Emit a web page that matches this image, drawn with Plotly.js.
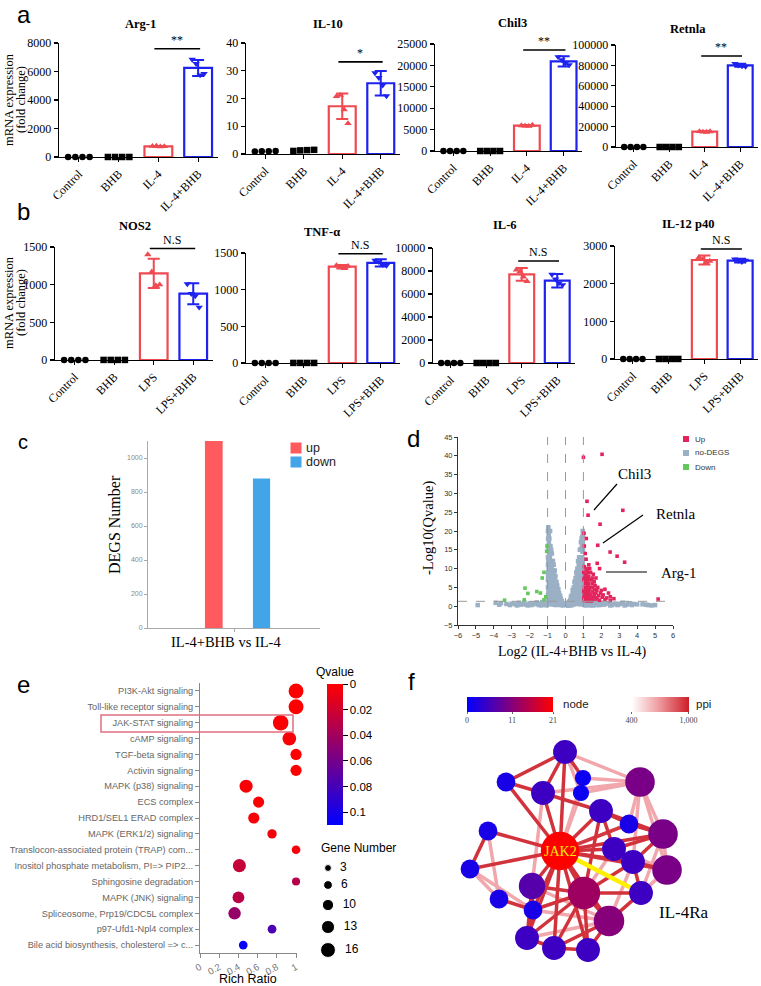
<!DOCTYPE html>
<html><head><meta charset="utf-8">
<script src="https://cdn.plot.ly/plotly-3.0.1.min.js"></script>
<style>html,body{margin:0;padding:0;background:#fff}#chart{width:761px;height:986px}</style>
</head><body><div id="chart"></div>
<script>
// ================= DATA =================
const catsA = ['Control','BHB','IL-4','IL-4+BHB'];
const catsB = ['Control','BHB','LPS','LPS+BHB'];

// panel a (points per group, mean, SD)
const arg1Pts  = [[1,1,1,1],[1,1,1,1],[760,780,720,745],[6850,6550,5750,5850]];
const arg1Mean = [1,1,750,6250];
const arg1Sd   = [0,0,30,560];
const il10Pts  = [[0.9,1.0,1.0,1.1],[1.1,1.3,1.4,1.5],[20.8,21.2,16,11],[29.2,27.5,24.8,20.9]];
const il10Mean = [1,1.3,17.2,25.5];
const il10Sd   = [0.1,0.2,4.6,4.4];
const chil3Pts  = [[1,1,1,1],[1,1,1,1],[5950,5850,5800,6050],[22000,21300,20500,20100]];
const chil3Mean = [1,1,5910,20960];
const chil3Sd   = [0,0,150,1200];
const retnlaPts  = [[1,1,1,1],[1,1,1,1],[15300,14800,14700,15200],[81800,80200,79400,79000]];
const retnlaMean = [1,1,15000,80100];
const retnlaSd   = [0,0,400,1500];
// panel b
const nos2Pts  = [[1,1,1,1],[1,1,1,1],[1400,1170,990,1000],[1010,880,850,700]];
const nos2Mean = [1,1,1150,880];
const nos2Sd   = [0,0,195,140];
const tnfPts   = [[1,1,1,1],[1,1,1,1],[1330,1310,1290,1320],[1400,1380,1340,1330]];
const tnfMean  = [1,1,1313,1365];
const tnfSd    = [0,0,25,50];
const il6Pts   = [[1,1,1,1],[1,1,1,1],[8100,7950,7500,7100],[7700,7300,6950,6800]];
const il6Mean  = [1,1,7710,7160];
const il6Sd    = [0,0,560,590];
const il12Pts  = [[1,1,1,1],[1,1,1,1],[2700,2650,2560,2600],[2650,2610,2580,2620]];
const il12Mean = [1,1,2628,2610];
const il12Sd   = [0,0,120,50];
const sigHeights = [7600, 33.2, 23600, 89200, 1480, 1490, 8870, 2920];
const sigLabels  = ['**','*','**','**','N.S','N.S','N.S','N.S'];

// panel c
const degCategory = ['IL-4+BHB vs IL-4'];
const degUp   = [1100];
const degDown = [880];

// panel d (volcano)
const greyX = [-0.96,-0.94,-0.97,-0.93,-0.95,-0.92,-0.96,-0.94,-0.97,-0.93,-0.95,-0.96,-0.94,
  -0.86,-0.84,-0.87,-0.85,-0.83,-0.86,-0.84,-0.87,-0.85,-0.83,
  -0.76,-0.74,-0.77,-0.75,-0.73,-0.76,-0.74,-0.77,-0.75,
  -0.66,-0.64,-0.67,-0.65,-0.63,-0.66,-0.64,-0.65,
  -0.56,-0.54,-0.57,-0.55,-0.53,-0.56,-0.54,
  -0.46,-0.44,-0.47,-0.45,-0.43,
  -0.36,-0.34,-0.37,-0.35,
  -0.26,-0.24,-0.27,
  -0.16,-0.14,
  -0.98,-0.98,-0.98,-0.98,-0.98,-0.98,-0.98,-0.98,-0.98,
  -0.90,-0.90,-0.90,-0.90,-0.90,-0.90,-0.90,-0.90,-0.90,
  -0.80,-0.80,-0.80,-0.80,-0.80,-0.80,-0.80,-0.80,
  -0.70,-0.70,-0.70,-0.70,-0.70,-0.70,-0.70,
  -0.60,-0.60,-0.60,-0.60,-0.60,-0.60,
  -0.50,-0.50,-0.50,-0.50,-0.50,
  -0.40,-0.40,-0.40,-0.40,
  -0.30,-0.30,-0.30,
  -0.20,-0.20,
  0.96,0.94,0.97,0.93,0.95,0.92,0.96,0.94,0.97,0.93,0.95,0.96,0.94,0.95,
  0.86,0.84,0.87,0.85,0.83,0.86,0.84,0.87,0.85,0.83,
  0.76,0.74,0.77,0.75,0.73,0.76,0.74,0.77,0.75,
  0.66,0.64,0.67,0.65,0.63,0.66,0.64,
  0.56,0.54,0.57,0.55,0.53,0.56,
  0.46,0.44,0.47,0.45,0.43,
  0.36,0.34,0.37,0.35,
  0.26,0.24,0.27,
  0.16,0.14,
  0.98,0.98,0.98,0.98,0.98,0.98,0.98,0.98,0.98,0.98,
  0.90,0.90,0.90,0.90,0.90,0.90,0.90,0.90,0.90,0.90,
  0.80,0.80,0.80,0.80,0.80,0.80,0.80,0.80,
  0.70,0.70,0.70,0.70,0.70,0.70,0.70,
  0.60,0.60,0.60,0.60,0.60,0.60,
  0.50,0.50,0.50,0.50,0.50,
  0.40,0.40,0.40,0.40,
  0.30,0.30,0.30,
  0.20,0.20,
  -4.9,-3.9,-3.6,-3.3,-3.0,-2.8,-2.6,-2.4,-2.2,-2.0,-1.8,-1.6,-1.5,-1.4,-1.3,-1.2,-1.1,-1.05,
  -3.7,-3.1,-2.7,-2.5,-2.3,-2.1,-1.9,-1.7,-1.55,-1.35,-1.15,
  1.05,1.1,1.2,1.3,1.4,1.5,1.6,1.7,1.8,1.9,2.0,2.2,2.4,2.6,2.8,3.0,3.2,3.4,3.6,3.8,4.3,4.5,4.8,5.0,
  1.15,1.25,1.35,1.45,1.55,1.65,1.75,1.85,2.1,2.3,2.5,2.7,2.9,3.1,3.3,3.5,3.7,4.0,4.6];
const greyY = [21,19,18,17,15.5,14,12,10,8,6,4,2,0.8,
  20,16,13,11,9,7,5,3,1.5,0.5,
  14,12,10,8,6,4.5,3,1.8,0.6,
  11,9,7,5.5,4,2.5,1.2,0.4,
  8,6,4.5,3,2,1,0.3,
  5.5,4,2.8,1.6,0.7,
  3.5,2.2,1.2,0.4,
  2,1,0.3,
  0.8,0.2,
  20,16,13,11,9,7,5,3,1.2,
  18,15,12.5,10.5,8.5,6.5,4.5,2.5,1,
  15,12,9.5,7.5,5.5,3.5,2,0.8,
  12,9.5,7.5,5,3.3,2,0.7,
  9.5,7,5,3.5,2,0.8,
  6.5,4.8,3.3,2,0.9,
  4.5,3,1.8,0.8,
  2.8,1.7,0.7,
  1.4,0.6,
  20,18.5,17,16,14.5,13,11.5,10,8.5,7,5.5,4,2.5,1,
  17,15,13,11,9,7,5,3,1.5,0.5,
  13,11,9,7.5,6,4.5,3,1.5,0.6,
  10,8,6.5,5,3.5,2,0.8,
  7.5,6,4.5,3,1.8,0.6,
  5,3.8,2.5,1.3,0.4,
  3,2,1,0.3,
  1.6,0.8,0.2,
  0.6,0.1,
  19,15,12.5,10.5,9,7.5,6,4.5,3,1.8,
  18,15.5,13,11,9,7,5,3.5,2,0.8,
  15,12,10,8,6,4,2.3,1,
  12,9.5,7.5,5.5,3.8,2.3,1,
  9,7,5.3,3.8,2.4,1,
  6.5,4.8,3.3,2,0.8,
  4.3,2.9,1.7,0.7,
  2.5,1.5,0.6,
  1.2,0.5,
  0.3,0.9,0.8,0.6,0.7,0.5,0.9,0.6,0.4,0.8,0.5,1.0,0.3,0.7,1.1,0.4,0.9,0.2,
  0.4,0.3,0.2,0.4,1.0,0.2,0.3,0.8,0.6,0.2,0.6,
  0.3,0.8,0.5,1.0,0.2,0.7,0.4,1.1,0.6,0.3,0.9,0.5,0.8,0.3,0.7,0.5,0.9,0.4,0.8,0.6,0.5,0.4,0.2,0.3,
  0.2,0.7,0.4,1.0,0.2,0.8,0.3,0.9,0.4,0.7,0.2,0.6,0.3,0.7,0.2,0.6,0.3,0.5,0.3];
const upX = [1.0,2.04,1.2,3.2,1.26,1.93,1.03,1.16,1.8,2.49,2.88,3.3,1.77,1.9,1.05,1.1,1.15,1.3,1.05,1.2,1.4,1.1,1.3,1.55,1.05,1.2,1.45,1.7,1.1,1.3,1.5,1.65,1.05,1.2,1.4,1.6,1.8,1.1,1.3,1.5,1.7,2.0,2.2,1.05,1.2,1.4,1.6,1.85,2.1,2.4,2.5,1.1,1.3,1.5,1.7,1.9,2.2,2.5,1.05,1.25,1.45,2.3,5.17,2.7,
  1.02,1.02,1.02,1.02,1.15,1.15,1.15,1.15,1.15,1.15,1.15,1.25,1.25,1.25,1.25,1.25,1.35,1.35,1.35,1.35,1.35,1.5,1.5,1.5,1.6,1.6,1.75,1.75,1.95,2.05];
const upY = [39.6,40.4,27.9,25.5,24.2,21.8,19.4,18,16.2,14.4,13.3,11.7,11.4,10,16,14,12.5,11,10.5,9.5,9,8.5,8,8.5,7.5,7,7,7.5,6,6,6,5.5,5,5,5,4.5,5,4,4,3.8,3.5,4.2,4.5,3,3,2.8,2.6,2.8,3,3.5,2.5,2,2,1.8,1.9,1.6,1.8,1.5,1.5,1.4,1.4,2.2,1.9,2.0,
  9,7,4,2.2,10,8,6.5,4.5,3.5,2.5,1.6,9,7.5,5.5,3.5,2.5,10,7,4.5,3.2,1.7,7.5,5,2.3,6.5,3.3,4.2,2.3,3.5,2.4];
const downX = [-1.03,-1.05,-1.2,-1.3,-2.26,-1.6,-2.1,-1.4,-3.4,-2.3,-1.2,-1.1];
const downY = [16,14.6,9,7.5,4.8,3.9,3.4,3.5,1.6,1.7,1.7,2.5];

// panel e (enrichment)
const pathways = ['PI3K-Akt signaling','Toll-like receptor signaling','JAK-STAT signaling','cAMP signaling',
  'TGF-beta signaling','Activin signaling','MAPK (p38) signaling','ECS complex','HRD1/SEL1 ERAD complex',
  'MAPK (ERK1/2) signaling','Translocon-associated protein (TRAP) com...','Inositol phosphate metabolism, PI=> PIP2...',
  'Sphingosine degradation','MAPK (JNK) signaling','Spliceosome, Prp19/CDC5L complex','p97-Ufd1-Npl4 complex',
  'Bile acid biosynthesis, cholesterol => c...'];
const richRatio  = [1.0,1.0,0.84,0.93,1.0,1.0,0.48,0.61,0.56,0.75,1.0,0.41,1.0,0.40,0.36,0.75,0.45];
const geneNumber = [16,16,17,14,10,10,13,10,10,7,6,13,5,11,12,6,6];
const qValue     = [0,0,0.002,0.003,0,0,0.002,0.002,0.003,0.005,0.004,0.025,0.032,0.03,0.045,0.078,0.107];
const geneLegend = [3,6,10,13,16];
const qTicks = [0,0.02,0.04,0.06,0.08,0.1];

// panel f (PPI network; node layout positions and degree, edges with ppi score)
const nodeX   = [565,506,583,640,543,581,601,629,488,663,560,614,633,470,667,532,584,641,499,533,609,527,554,588];
const nodeY   = [752,782,778,782,793,793,811,824,831,834,851,849,862,869,870,886,893,893,899,910,921,938,948,950];
const nodeDeg = [5,2,1,10,5,1,5,2,2,10,21,5,5,2,10,7,13,5,2,2,11,5,5,5];
const nodeLabels = ['','','','','','','','','','','JAK2','','','','','','','IL-4Ra','','','','','',''];
const edgeFrom = [11,11,11,11,11,11,11,11,11,11,11,11,11,11,11,11,11,11,11,11,
  1,1,1,1,1,2,3,6,5,5,5,7,7,7,7,8,4,4,4,4,10,10,10,12,13,13,15,9,9,14,14,19,16,16,16,16,17,17,17,17,17,17,17,21,21,21,21,21,20,22,23,20,20,12,18,13];
const edgeTo   = [1,2,5,7,9,12,13,10,14,16,17,20,21,22,23,24,15,8,3,6,
  2,5,3,4,6,5,4,4,4,7,16,10,8,12,17,10,10,8,15,13,12,13,15,13,15,18,18,14,19,19,20,20,20,22,17,21,21,22,23,24,18,12,13,24,23,18,22,15,22,23,24,21,17,15,10,21];
const edgeScore = [950,950,950,950,950,950,950,950,950,950,950,950,950,950,950,950,930,930,650,650,
  950,950,950,650,650,950,650,650,650,950,650,950,950,950,950,950,650,650,650,650,950,950,650,950,950,950,650,950,650,650,650,950,950,950,950,650,950,950,950,950,950,650,950,950,950,950,650,650,950,950,950,650,950,650,650,650];
const highlightEdge = [11,18];
const nodeScaleTicks = [0,11,21];
const ppiTicks = [400,1000];

// ================= DRAWING =================
const W=761, H=986;
const serif='"Liberation Serif","Times New Roman",serif';
const sans='"Liberation Sans",Arial,sans-serif';
const xd=(a,b)=>[a/W,b/W];
const yd=(t,b)=>[1-b/H,1-t/H];
const traces=[];
const layout={width:W,height:H,margin:{l:0,r:0,t:0,b:0},paper_bgcolor:'#ffffff',plot_bgcolor:'rgba(0,0,0,0)',
  barmode:'overlay',showlegend:false,annotations:[],shapes:[],hovermode:false};
function ann(x,y,text,font,extra){layout.annotations.push(Object.assign({xref:'paper',yref:'paper',x:x/W,y:1-y/H,
  xanchor:'center',yanchor:'middle',text:text,showarrow:false,font:font},extra||{}));}
const axName=n=>n===1?'':String(n);

const gColors=['#000000','#000000','#EF4A52','#1E22EE'];
const gSym=['circle','square','triangle-up','triangle-down'];
const jitC=[-0.27,-0.09,0.09,0.27], jitT=[-0.15,-0.05,0.05,0.15];

function barPanel(n,cats,pts,mean,sd,ymax,dtick,title,si,box,tpos){
  const xa='x'+axName(n), ya='y'+axName(n);
  for(let g=0;g<4;g++){
    if(g>=2){
      traces.push({type:'bar',x:[g],y:[mean[g]],width:0.7,xaxis:xa,yaxis:ya,
        marker:{color:'#ffffff',line:{color:gColors[g],width:2.2}},
        error_y:{type:'data',array:[sd[g]],visible:true,color:gColors[g],thickness:2,width:6}});
    }
    const jit=g<2?jitC:jitT;
    traces.push({type:'scatter',mode:'markers',x:pts[g].map((v,i)=>g+jit[i]),y:pts[g],xaxis:xa,yaxis:ya,
      cliponaxis:false,marker:{symbol:gSym[g],size:6.5,color:gColors[g],opacity:1}});
  }
  const ax={showline:true,linecolor:'#000',linewidth:1.3,ticks:'outside',ticklen:4,tickcolor:'#000',tickwidth:1.2,
    showgrid:false,zeroline:false,fixedrange:true,tickfont:{family:serif,size:12,color:'#000'}};
  layout['xaxis'+axName(n)]=Object.assign({},ax,{domain:xd(box[0],box[1]),anchor:ya,range:[-0.5,3.5],
    tickvals:[0,1,2,3],ticktext:cats,tickangle:-45});
  layout['yaxis'+axName(n)]=Object.assign({},ax,{domain:yd(box[2],box[3]),anchor:xa,range:[0,ymax],
    dtick:dtick,tick0:0,tickformat:'d'});
  layout.shapes.push({type:'line',xref:xa,yref:ya,x0:1.9,x1:3.05,y0:sigHeights[si],y1:sigHeights[si],line:{color:'#000',width:1.6}});
  layout.annotations.push({xref:xa,yref:ya,x:2.47,y:sigHeights[si],xanchor:'center',yanchor:'bottom',text:sigLabels[si],showarrow:false,
    font:{family:serif,size:12,color:'#000'}});
  ann(tpos[0],tpos[1],'<b>'+title+'</b>',{family:serif,size:12.5,color:'#000'});
}

barPanel(1,catsA,arg1Pts,arg1Mean,arg1Sd,8000,2000,'Arg-1',0,[59,218,43,157],[140,24]);
barPanel(2,catsA,il10Pts,il10Mean,il10Sd,40,10,'IL-10',1,[246,400,43,154],[328,24]);
barPanel(3,catsA,chil3Pts,chil3Mean,chil3Sd,25000,5000,'Chil3',2,[435,582,44,151],[512,23]);
barPanel(4,catsA,retnlaPts,retnlaMean,retnlaSd,100000,20000,'Retnla',3,[616,758,45,147],[688,29]);
barPanel(5,catsB,nos2Pts,nos2Mean,nos2Sd,1500,500,'NOS2',4,[55,213,247,360],[135,226]);
barPanel(6,catsB,tnfPts,tnfMean,tnfSd,1500,500,'TNF-α',5,[246,400,253,363],[322,232]);
barPanel(7,catsB,il6Pts,il6Mean,il6Sd,10000,2000,'IL-6',6,[433,575,248,363],[505,225]);
barPanel(8,catsB,il12Pts,il12Mean,il12Sd,3000,1000,'IL-12 p40',7,[615,758,246,359],[688,224]);

[[100],[303]].forEach(([cy])=>{
  ann(9,cy,'mRNA expression',{family:serif,size:12.5,color:'#000'},{textangle:-90});
  ann(21,cy,'(fold change)',{family:serif,size:12.5,color:'#000'},{textangle:-90});
});

// overlay axes (pixel coordinates) for keys and the network
layout.xaxis12={domain:[0,1],anchor:'y12',range:[0,W],visible:false,fixedrange:true};
layout.yaxis12={domain:[0,1],anchor:'x12',range:[H,0],visible:false,fixedrange:true};

// ---- panel c ----
const cColors=['#FF5A5E','#42A5E8'];
traces.push({type:'bar',name:'up',x:degCategory,y:degUp,width:0.103,offset:-0.169,xaxis:'x9',yaxis:'y9',marker:{color:cColors[0]}});
traces.push({type:'bar',name:'down',x:degCategory,y:degDown,width:0.1,offset:0.11,xaxis:'x9',yaxis:'y9',marker:{color:cColors[1]}});
layout.xaxis9={domain:xd(148,320),anchor:'y9',showline:true,linecolor:'#aaa',ticks:'outside',ticklen:3,tickcolor:'#aaa',
  showticklabels:false,showgrid:false,zeroline:false,fixedrange:true,range:[-0.5,0.5]};
layout.yaxis9={domain:yd(441,628),anchor:'x9',range:[0,1100],dtick:200,showline:true,linecolor:'#aaa',ticks:'outside',
  ticklen:3,tickcolor:'#aaa',tickfont:{family:sans,size:7,color:'#888'},showgrid:false,zeroline:false,fixedrange:true};
ann(114,524,'DEGS Number',{family:serif,size:16,color:'#000'},{textangle:-90});
ann(226,642,'IL-4+BHB vs IL-4',{family:serif,size:14.5,color:'#000'});
traces.push({type:'scatter',mode:'markers',x:[296,296],y:[448,462],xaxis:'x12',yaxis:'y12',cliponaxis:false,
  marker:{symbol:'square',size:11,color:cColors,opacity:1}});
ann(304,448,'up',{family:sans,size:12.5,color:'#222'},{xanchor:'left'});
ann(304,462,'down',{family:sans,size:12.5,color:'#222'},{xanchor:'left'});

// ---- panel d ----
const dColors=['#E3245C','#9BB0C5','#63C95A'];
traces.push({type:'scatter',mode:'markers',name:'no-DEGS',x:greyX,y:greyY,xaxis:'x10',yaxis:'y10',
  marker:{symbol:'square',size:4.5,color:dColors[1],opacity:1}});
traces.push({type:'scatter',mode:'markers',name:'Up',x:upX,y:upY,xaxis:'x10',yaxis:'y10',
  marker:{symbol:'square',size:3.6,color:dColors[0],opacity:1}});
traces.push({type:'scatter',mode:'markers',name:'Down',x:downX,y:downY,xaxis:'x10',yaxis:'y10',
  marker:{symbol:'square',size:3.6,color:dColors[2],opacity:1}});
layout.xaxis10={domain:xd(458,673),anchor:'y10',range:[-6,6],dtick:1,showline:true,linecolor:'#333',ticks:'outside',ticklen:3,
  tickcolor:'#333',tickfont:{family:sans,size:7.5,color:'#333'},showgrid:false,zeroline:false,fixedrange:true};
layout.yaxis10={domain:yd(437,625),anchor:'x10',range:[-5,45],dtick:5,showline:true,linecolor:'#333',ticks:'outside',ticklen:3,
  tickcolor:'#333',tickfont:{family:sans,size:7.5,color:'#333'},showgrid:false,zeroline:false,fixedrange:true};
[-1,0,1].forEach(v=>layout.shapes.push({type:'line',xref:'x10',yref:'y10',x0:v,x1:v,y0:-5,y1:45,line:{color:'#999',width:1,dash:'dash'}}));
layout.shapes.push({type:'line',xref:'x10',yref:'y10',x0:-6,x1:6,y0:1.3,y1:1.3,line:{color:'#999',width:1,dash:'dash'}});
traces.push({type:'scatter',mode:'markers',x:[686,686,686],y:[439,453,467],xaxis:'x12',yaxis:'y12',cliponaxis:false,
  marker:{symbol:'square',size:6,color:dColors,opacity:1}});
ann(693,439,'Up',{family:sans,size:8,color:'#333'},{xanchor:'left'});
ann(693,453,'no-DEGS',{family:sans,size:8,color:'#333'},{xanchor:'left'});
ann(693,467,'Down',{family:sans,size:8,color:'#333'},{xanchor:'left'});
ann(428,528,'-Log10(Qvalue)',{family:serif,size:14.5,color:'#000'},{textangle:-90});
ann(572,652,'Log2 (IL-4+BHB vs IL-4)',{family:serif,size:14,color:'#000'});
ann(616,474,'Chil3',{family:serif,size:15,color:'#000'},{xanchor:'left'});
ann(654,514,'Retnla',{family:serif,size:15,color:'#000'},{xanchor:'left'});
ann(659,573,'Arg-1',{family:serif,size:15,color:'#000'},{xanchor:'left'});
const seg=(x0,y0,x1,y1,col,w)=>layout.shapes.push({type:'line',xref:'paper',yref:'paper',x0:x0/W,y0:1-y0/H,x1:x1/W,y1:1-y1/H,line:{color:col,width:w}});
seg(617,484,594,510,'#000',1.2);
seg(643,515,603,543,'#000',1.2);
seg(606,572,647,572,'#000',1.2);

// ---- panel e ----
const bubbleSize=g=>5+0.62*g;
traces.push({type:'scatter',mode:'markers',x:richRatio,y:pathways,xaxis:'x11',yaxis:'y11',cliponaxis:false,
  marker:{size:geneNumber.map(bubbleSize),opacity:1,color:qValue.map(v=>-v),cmin:-0.11,cmax:0,
    colorscale:[[0,'rgb(0,0,255)'],[1,'rgb(255,0,0)']],showscale:true,
    colorbar:{x:327/W,xanchor:'left',y:1-684/H,yanchor:'top',len:141,lenmode:'pixels',thickness:16,outlinewidth:0,xpad:0,ypad:0,
      tickvals:qTicks.map(v=>-v),ticktext:qTicks.map(String),ticks:'outside',ticklen:5,tickcolor:'#000',
      tickfont:{family:sans,size:11.5,color:'#000'}},
    line:{width:0}}});
layout.xaxis11={domain:xd(200,297),anchor:'y11',range:[0,1.01],dtick:0.2,tickangle:-30,showline:true,linecolor:'#888',ticks:'outside',
  ticklen:4,tickcolor:'#888',tickfont:{family:sans,size:9.5,color:'#777'},showgrid:false,zeroline:false,fixedrange:true};
layout.yaxis11={domain:yd(683,953),anchor:'x11',type:'category',categoryorder:'array',categoryarray:pathways,range:[16.5,-0.5],
  showline:true,linecolor:'#888',ticks:'outside',ticklen:4,tickcolor:'#888',tickfont:{family:sans,size:9.2,color:'#666'},
  showgrid:false,zeroline:false,fixedrange:true};
layout.shapes.push({type:'rect',xref:'paper',yref:'paper',x0:101/W,x1:293/W,y0:1-732/H,y1:1-715/H,line:{color:'#E07080',width:1.5}});
ann(335,672,'Qvalue',{family:sans,size:12,color:'#000'});
ann(248,979,'Rich Ratio',{family:sans,size:12.5,color:'#000'});
ann(319,848,'Gene Number',{family:sans,size:12,color:'#000'},{xanchor:'left'});
traces.push({type:'scatter',mode:'markers+text',x:geneLegend.map(()=>328),y:[868,885,905,927,950],xaxis:'x12',yaxis:'y12',
  cliponaxis:false,text:geneLegend.map(v=>'  '+v),textposition:'middle right',
  textfont:{family:sans,size:12,color:'#000'},marker:{size:geneLegend.map(bubbleSize),color:'#000',opacity:1}});

// ---- panel f ----
const ppiStops=[[0,[255,255,255]],[0.45,[240,160,165]],[1,[205,30,40]]];
function ppiColor(s){
  const t=Math.max(0,Math.min(1,(s-400)/600));
  for(let i=1;i<ppiStops.length;i++){
    if(t<=ppiStops[i][0]){
      const a=ppiStops[i-1],b=ppiStops[i],f=(t-a[0])/(b[0]-a[0]);
      const c=a[1].map((v,k)=>Math.round(v+(b[1][k]-v)*f));
      return 'rgb('+c.join(',')+')';
    }
  }
  return 'rgb(205,30,40)';
}
const order=edgeScore.map((s,i)=>i).sort((a,b)=>edgeScore[a]-edgeScore[b]);
order.forEach(i=>{
  const a=edgeFrom[i]-1,b=edgeTo[i]-1;
  traces.push({type:'scatter',mode:'lines',x:[nodeX[a],nodeX[b]],y:[nodeY[a],nodeY[b]],xaxis:'x12',yaxis:'y12',
    line:{color:ppiColor(edgeScore[i]),width:3.5}});
});
traces.push({type:'scatter',mode:'lines',x:[nodeX[highlightEdge[0]-1],nodeX[highlightEdge[1]-1]],y:[nodeY[highlightEdge[0]-1],nodeY[highlightEdge[1]-1]],
  xaxis:'x12',yaxis:'y12',line:{color:'#FFF000',width:4.5}});
traces.push({type:'scatter',mode:'markers',x:nodeX,y:nodeY,xaxis:'x12',yaxis:'y12',cliponaxis:false,
  marker:{size:nodeDeg.map(d=>10+6.2*Math.sqrt(d)),opacity:1,color:nodeDeg,cmin:0,cmax:21,colorscale:[[0,'rgb(0,0,255)'],[1,'rgb(255,0,0)']],
    line:{width:0},showscale:true,
    colorbar:{orientation:'h',x:510/W,xanchor:'center',y:1-697/H,yanchor:'top',len:86,lenmode:'pixels',thickness:15,outlinewidth:0,xpad:0,ypad:0,
      tickvals:nodeScaleTicks,ticks:'outside',ticklen:2,tickcolor:'#666',tickfont:{family:serif,size:8,color:'#444'}}}});
traces.push({type:'scatter',mode:'markers',x:[-100],y:[-100],xaxis:'x12',yaxis:'y12',
  marker:{size:1,color:[700],cmin:400,cmax:1000,colorscale:ppiStops.map(s=>[s[0],'rgb('+s[1].join(',')+')']),showscale:true,
    colorbar:{orientation:'h',x:660/W,xanchor:'center',y:1-697/H,yanchor:'top',len:57,lenmode:'pixels',thickness:15,outlinewidth:0,xpad:0,ypad:0,
      tickvals:ppiTicks,ticktext:['400','1,000'],ticks:'outside',ticklen:2,tickcolor:'#666',tickfont:{family:serif,size:8,color:'#444'}}}});
ann(561,704,'node',{family:sans,size:11.5,color:'#222'},{xanchor:'left'});
ann(694,704,'ppi',{family:sans,size:11.5,color:'#222'},{xanchor:'left'});
nodeLabels.forEach((t,i)=>{ if(!t) return;
  if(t==='JAK2') ann(nodeX[i],nodeY[i],t,{family:serif,size:14,color:'#FFEA00'});
  else ann(nodeX[i]+16,nodeY[i]+19,t,{family:serif,size:17,color:'#000'},{xanchor:'left'});
});

// panel letters
ann(24,14,'a',{family:sans,size:24,color:'#000'});
ann(24,211,'b',{family:sans,size:24,color:'#000'});
ann(23,442,'c',{family:sans,size:20,color:'#000'});
ann(414,438,'d',{family:sans,size:24,color:'#000'});
ann(24,684,'e',{family:sans,size:24,color:'#000'});
ann(411,681,'f',{family:sans,size:24,color:'#000'});

traces.forEach(t=>{t.showlegend=false;});
Plotly.newPlot('chart',traces,layout,{staticPlot:true,displayModeBar:false});
</script></body></html>
